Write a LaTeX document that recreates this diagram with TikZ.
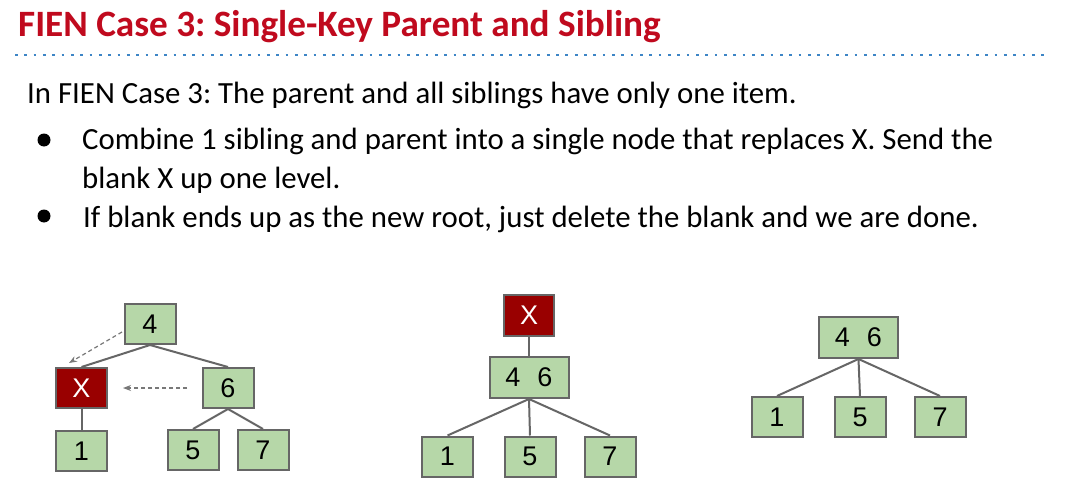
\documentclass[tikz,border=0pt]{standalone}
\usepackage{fontspec}
\setmainfont{Carlito}
\newfontfamily\arialf{Liberation Sans}
\usetikzlibrary{arrows.meta}
\definecolor{titlered}{RGB}{192,10,30}
\definecolor{dotblue}{RGB}{61,133,198}
\definecolor{boxgreen}{RGB}{182,215,168}
\definecolor{boxgray}{RGB}{102,102,102}
\definecolor{darkred}{RGB}{153,0,0}
\definecolor{arrowgray}{RGB}{120,120,120}
\frenchspacing
\begin{document}
\begin{tikzpicture}[x=1pt,y=-1pt,
  key/.style={draw=boxgray, line width=2pt, fill=boxgreen, minimum width=51pt, minimum height=40pt, inner sep=0pt, font=\arialf\fontsize{27}{27}\selectfont, text=black},
  wide/.style={key, minimum width=79pt, minimum height=41pt},
  blank/.style={key, fill=darkred, text=white},
  edge/.style={draw=boxgray, line width=2pt},
  move/.style={draw=arrowgray, line width=1.2pt, dash pattern=on 4pt off 3pt, -{Stealth[length=8pt,width=6pt]}},
  txt/.style={anchor=base west, inner sep=0pt, font=\fontsize{30.8}{37}\selectfont}
]
\fill[white] (0,0) rectangle (1077,495);
\node[anchor=base west, inner sep=0pt, text=titlered, font=\bfseries\fontsize{37.2}{42}\selectfont] (title) at (18,37) {FIEN Case 3: Single-Key Parent and Sibling};
\coordinate (d1) at (15,55);
\coordinate (d2) at (1050,55);
\draw[dotblue, line width=2.7pt, dash pattern=on 2.7pt off 6.63pt] (d1) -- (d2);

\node[txt] (l1) at (27,103) {In FIEN Case 3: The parent and all siblings have only one item.};
\node[txt] (l2) at (82,149) {Combine 1 sibling and parent into a single node that replaces X. Send the};
\node[txt] (l3) at (82,188) {blank X up one level.};
\node[txt] (l4) at (83,227) {If blank ends up as the new root, just delete the blank and we are done.};
\fill (44,140) circle (6.5pt);
\fill (44,216) circle (6.5pt);

% tree 1
\node[key] (n4) at (150,324) {4};
\node[blank] (x1) at (81.5,388) {X};
\node[key] (n6) at (228,388) {6};
\node[key] (a1) at (81.5,451) {1};
\node[key] (a5) at (193,450) {5};
\node[key] (a7) at (263,450) {7};
\draw[edge] (n4.south) -- (x1.north);
\draw[edge] (n4.south) -- (n6.north);
\draw[edge] (x1.south) -- (a1.north);
\draw[edge] (n6.south) -- (a5.north);
\draw[edge] (n6.south) -- (a7.north);
\coordinate (m1s) at (122,332);
\coordinate (m1e) at (69,363);
\coordinate (m2s) at (187,388);
\coordinate (m2e) at (123,388);
\draw[move] (m1s) -- (m1e);
\draw[move] (m2s) -- (m2e);

% tree 2
\node[blank, minimum width=50pt, minimum height=41pt] (x2) at (529,315.5) {X};
\node[wide] (b46) at (529,377.5) {4\hspace{17pt}6};
\node[key] (b1) at (447.5,456.5) {1};
\node[key] (b5) at (530,456.5) {5};
\node[key] (b7) at (610,456.5) {7};
\draw[edge] (x2.south) -- (b46.north);
\draw[edge] (b46.south) -- (b1.north);
\draw[edge] (b46.south) -- (b5.north);
\draw[edge] (b46.south) -- (b7.north);

% tree 3
\node[wide] (c46) at (858.5,337.5) {4\hspace{17pt}6};
\node[key] (c1) at (777,417) {1};
\node[key] (c5) at (860,417) {5};
\node[key] (c7) at (940,417) {7};
\draw[edge] (c46.south) -- (c1.north);
\draw[edge] (c46.south) -- (c5.north);
\draw[edge] (c46.south) -- (c7.north);
\end{tikzpicture}
\end{document}
